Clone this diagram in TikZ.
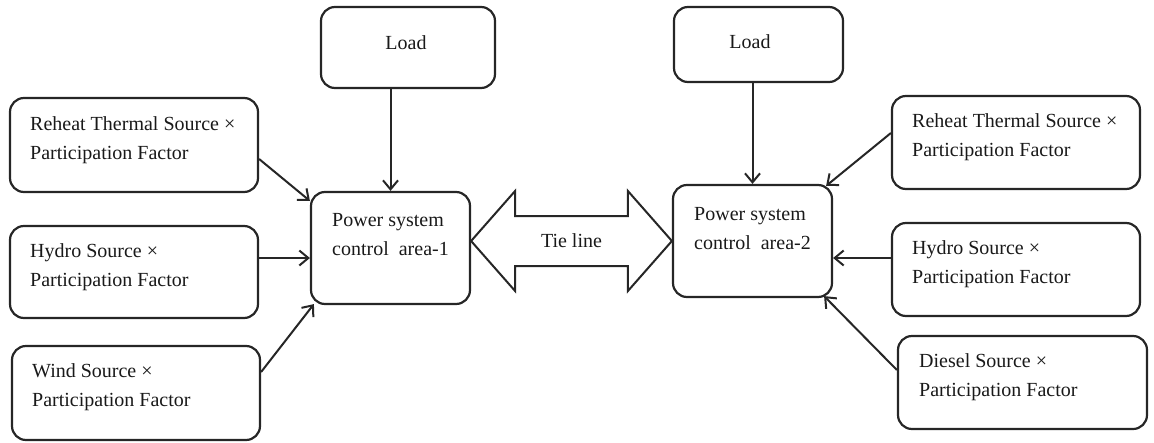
\documentclass[tikz,border=0pt]{standalone}
\usepackage{fontspec}
\setmainfont{Liberation Serif}
\usetikzlibrary{arrows.meta,calc}
\begin{document}
\begin{tikzpicture}[x=1pt,y=-1pt,
  box/.style={draw=black!85,line width=2.2pt,rounded corners=14pt,inner sep=0pt},
  txt/.style={font=\fontsize{20}{29}\selectfont,text=black!90,inner sep=0pt,align=left,anchor=west},
  ctxt/.style={font=\fontsize{20}{29}\selectfont,text=black!90,inner sep=0pt},
  arr/.style={draw=black!85,line width=2pt,-{Straight Barb[length=9pt,width=15pt,line width=2pt]}}]
\useasboundingbox (0,0) rectangle (1154,442);
% boxes
\node[box,minimum width=174pt,minimum height=81pt] (load1) at (408,47.5) {};
\node[box,minimum width=169pt,minimum height=75pt] (load2) at (758.5,44.5) {};
\node[box,minimum width=248pt,minimum height=94pt] (rh1) at (134,145) {};
\node[box,minimum width=248pt,minimum height=92pt] (hy1) at (134,272) {};
\node[box,minimum width=248pt,minimum height=94pt] (wi1) at (136,393) {};
\node[box,minimum width=159pt,minimum height=112pt] (ps1) at (390.5,248) {};
\node[box,minimum width=159pt,minimum height=112pt] (ps2) at (752.5,241) {};
\node[box,minimum width=248pt,minimum height=93pt] (rh2) at (1016,142.5) {};
\node[box,minimum width=248pt,minimum height=93pt] (hy2) at (1016,269.5) {};
\node[box,minimum width=249pt,minimum height=93pt] (di2) at (1022.5,382.5) {};
% texts
\node[ctxt] (load1t) at (406,43) {Load};
\node[ctxt] (load2t) at (750,42) {Load};
\node[txt] (rh1t) at (30,140.5) {Reheat Thermal Source ×\\Participation Factor};
\node[txt] (hy1t) at (30,267.5) {Hydro Source ×\\Participation Factor};
\node[txt] (wi1t) at (32,387.5) {Wind Source ×\\Participation Factor};
\node[txt] (ps1t) at (332,235) {Power system\\control\ \ area-1};
\node[txt] (ps2t) at (694,228.5) {Power system\\control\ \ area-2};
\node[txt] (rh2t) at (912,137.5) {Reheat Thermal Source ×\\Participation Factor};
\node[txt] (hy2t) at (912,264.5) {Hydro Source ×\\Participation Factor};
\node[txt] (di2t) at (919,377.5) {Diesel Source ×\\Participation Factor};
% connectors
\draw[arr] (ps1.north |- load1.south) -- (ps1.north);
\draw[arr] (ps2.north |- load2.south) -- (ps2.north);
\draw[arr] ($(rh1.east)+(0,14)$) -- ($(ps1.north west)+(0,10)$);
\draw[arr] ($(hy1.east)+(0,-14)$) -- ($(ps1.west)+(0,10)$);
\draw[arr] ($(wi1.east)+(0,-21)$) -- ($(ps1.south west)+(4,-1)$);
\draw[arr] ($(rh2.west)+(0,-9.5)$) -- ($(ps2.north east)+(-7,2)$);
\draw[arr] ($(hy2.west)+(0,-11.5)$) -- ($(ps2.east)+(0,17)$);
\draw[arr] ($(di2.west)+(0,-12.5)$) -- ($(ps2.south east)+(-9,-2)$);
% tie line
\coordinate (tl) at (ps1.east |- ps2.west);
\coordinate (tr) at (ps2.west);
\draw[draw=black!85,line width=2pt,line join=miter]
  (tl) -- ($(tl)+(44,-50)$) -- ($(tl)+(44,-25)$) -- ($(tr)+(-44,-25)$) -- ($(tr)+(-44,-50)$)
  -- (tr) -- ($(tr)+(-44,50)$) -- ($(tr)+(-44,25)$) -- ($(tl)+(44,25)$) -- ($(tl)+(44,50)$) -- cycle;
\node[ctxt] (tie) at ($(tl)!0.5!(tr)$) {Tie line};
\end{tikzpicture}
\end{document}
